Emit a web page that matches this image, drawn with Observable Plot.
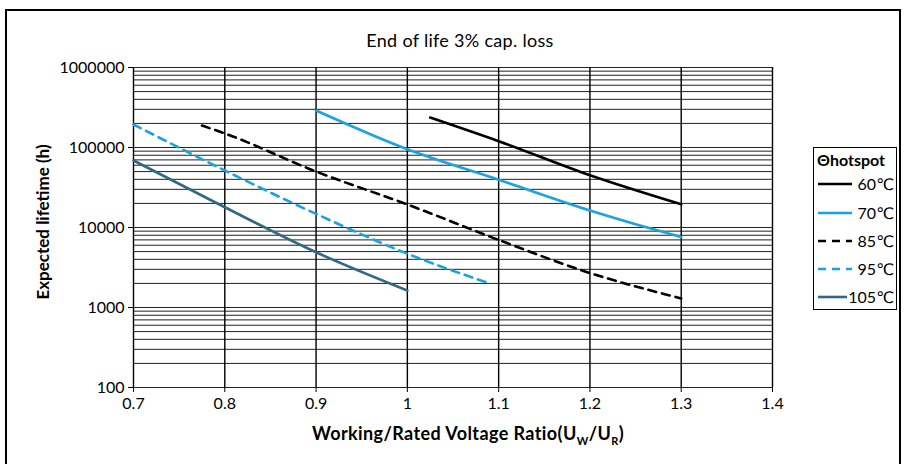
<!DOCTYPE html>
<html>
<head>
<meta charset="utf-8">
<script src="https://cdn.jsdelivr.net/npm/d3@7"></script>
<script src="https://cdn.jsdelivr.net/npm/@observablehq/plot@0.6"></script>
<style>
  html, body { margin: 0; padding: 0; background: #fff; }
  #wrap { position: relative; width: 907px; height: 464px; overflow: hidden; font-family: Lato, "DejaVu Sans", sans-serif; color: #000; }
  #frame { position: absolute; left: 5px; top: 9px; width: 896px; height: 470px; border: 2px solid #000; box-sizing: border-box; }
  #title { position: absolute; left: 0; width: 920px; top: 29px; text-align: center; font-size: 18px; letter-spacing: 0.3px; }
  #ylab { position: absolute; left: 42px; top: 222px; transform: translate(-50%, -50%) rotate(-90deg); font-size: 17px; font-weight: bold; white-space: nowrap; }
  #xlab { position: absolute; left: 468px; top: 422px; transform: translateX(-50%); font-size: 18px; font-weight: bold; letter-spacing: 0.4px; white-space: nowrap; }
  #xlab sub { font-size: 11px; }
  #legend { position: absolute; left: 813px; top: 147px; width: 84px; height: 163px; border: 1px solid #000; box-sizing: border-box; background: #fff; }
  #legend .t { position: absolute; left: 3px; top: 2px; font-weight: bold; font-size: 16px; }
  #legend .e { position: absolute; left: 3px; width: 78px; height: 20px; }
  #legend .e svg { position: absolute; left: 0; top: 0; }
  #legend .e span { position: absolute; right: 1px; top: 0; font-size: 16px; }
  #chart { position: absolute; left: 0; top: 0; }
</style>
</head>
<body>
<div id="wrap">
  <div id="chart"></div>
  <div id="frame"></div>
  <div id="title">End of life 3% cap. loss</div>
  <div id="ylab">Expected lifetime (h)</div>
  <div id="xlab">Working/Rated Voltage Ratio(U<sub>W</sub>/U<sub>R</sub>)</div>
  <div id="legend"></div>
</div>
<script>
// ---- data ----
const xTicks = [0.7, 0.8, 0.9, 1.0, 1.1, 1.2, 1.3, 1.4];
const yTicks = [100, 1000, 10000, 100000, 1000000];

const ratio60 = [1.025, 1.1, 1.2, 1.3];
const life60  = [237000, 120000, 45000, 19500];

const ratio70 = [0.9, 1.0, 1.1, 1.2, 1.25, 1.3];
const life70  = [290000, 95000, 39500, 16300, 11000, 7600];

const ratio85 = [0.775, 0.8, 0.9, 1.0, 1.1, 1.2, 1.3];
const life85  = [188000, 150000, 50000, 19400, 7000, 2700, 1300];

const ratio95 = [0.7, 0.8, 0.9, 1.0, 1.09];
const life95  = [194000, 51600, 14800, 4700, 2000];

const ratio105 = [0.7, 0.8, 0.9, 1.0];
const life105  = [68800, 17900, 4900, 1630];

const seriesNames = ["60℃", "70℃", "85℃", "95℃", "105℃"];
const seriesColors = ["#000000", "#19a2e4", "#000000", "#19a2e4", "#2f6986"];
const seriesDash = [null, null, "8,6", "8,6", null];
const seriesRatio = [ratio60, ratio70, ratio85, ratio95, ratio105];
const seriesLife = [life60, life70, life85, life95, life105];

// ---- build table ----
const rows = [];
seriesNames.forEach((name, i) => {
  seriesRatio[i].forEach((r, j) => rows.push({series: name, ratio: r, life: seriesLife[i][j]}));
});

const gridY = [];
for (let k = 0; k < yTicks.length - 1; k++) {
  for (let m = 1; m <= 9; m++) gridY.push(yTicks[k] * m);
}
gridY.push(yTicks[yTicks.length - 1]);

const marks = [
  Plot.ruleY(gridY, {stroke: "#222", strokeWidth: 1}),
  Plot.ruleX(xTicks.slice(1), {stroke: "#000", strokeWidth: 1.4}),
  Plot.ruleX([0.7], {stroke: "#000", strokeWidth: 1.4}),
  Plot.axisY({ticks: yTicks, tickFormat: d => String(d), tickSize: 5, tickPadding: 4, label: null, fontSize: 16}),
  Plot.axisX({ticks: xTicks, tickFormat: d => String(+d.toFixed(1)), tickSize: 5, tickPadding: 5, label: null, fontSize: 16})
];
seriesNames.forEach((name, i) => {
  marks.push(Plot.line(rows.filter(d => d.series === name), {
    x: "ratio", y: "life", stroke: seriesColors[i], strokeWidth: 2.6,
    strokeDasharray: seriesDash[i] || undefined, curve: "monotone-x"
  }));
});

const chart = Plot.plot({
  width: 907, height: 464,
  marginLeft: 133, marginRight: 135, marginTop: 67, marginBottom: 77,
  x: {domain: [0.7, 1.4]},
  y: {type: "log", domain: [100, 1000000]},
  style: {fontFamily: "Lato, 'DejaVu Sans', sans-serif", fontSize: "16px", color: "#000", background: "transparent", overflow: "visible"},
  marks
});
document.getElementById("chart").appendChild(chart);

// ---- legend ----
const legend = document.getElementById("legend");
legend.innerHTML = '<div class="t">Θhotspot</div>';
const ys = [26, 55, 83, 111, 139];
const lineEnds = [35, 35, 35, 35, 30];
seriesNames.forEach((name, i) => {
  const e = document.createElement("div");
  e.className = "e";
  e.style.top = ys[i] + "px";
  e.innerHTML = `<svg width="40" height="20"><line x1="1" x2="${lineEnds[i]}" y1="10" y2="10" stroke="${seriesColors[i]}" stroke-width="2.6" ${seriesDash[i] ? `stroke-dasharray="${seriesDash[i]}"` : ""}/></svg><span>${name}</span>`;
  legend.appendChild(e);
});
</script>
</body>
</html>
